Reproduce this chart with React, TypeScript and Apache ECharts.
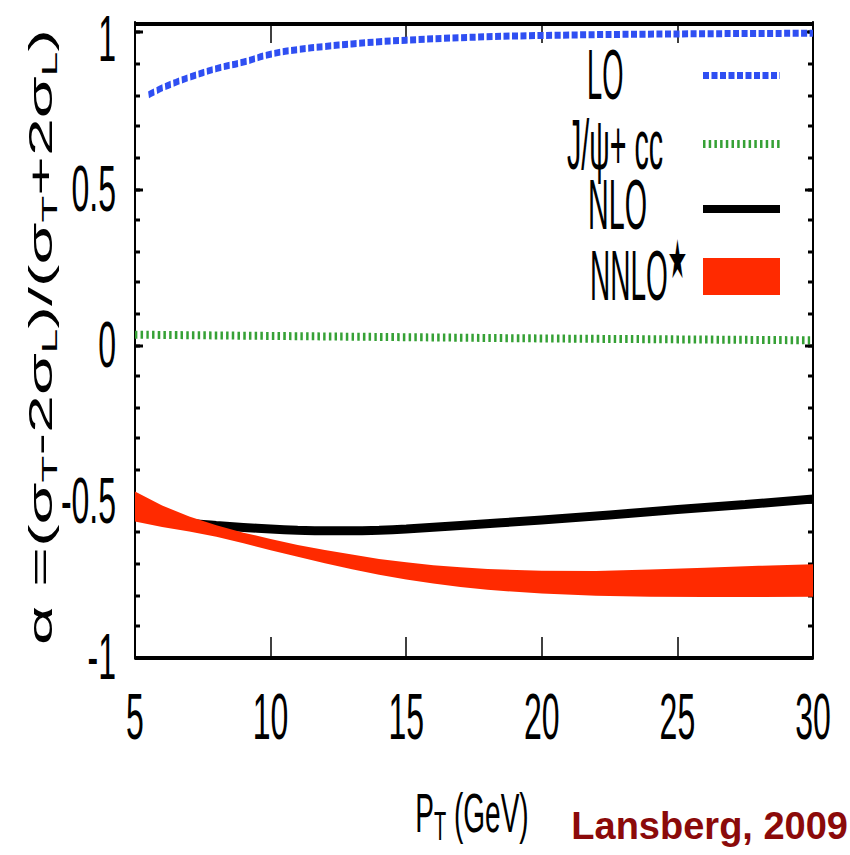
import React, { useEffect, useRef } from "react";
import * as echarts from "echarts";

// Polarisation parameter alpha versus P_T for prompt J/psi
const ptLO = [5.5, 6, 6.5, 7, 8, 9, 10, 11, 12, 13, 14, 15, 17, 20, 25, 30];
const alphaLO = [0.8, 0.822, 0.84, 0.856, 0.884, 0.905, 0.93, 0.945, 0.955, 0.963, 0.97, 0.975, 0.983, 0.99, 0.995, 0.997];

const ptCC = [5, 10, 15, 20, 25, 30];
const alphaCC = [0.032, 0.028, 0.024, 0.02, 0.017, 0.014];

const ptNLO = [6, 7, 8, 9, 10, 11, 12, 13, 14, 15, 17, 20, 22.5, 25, 27.5, 30];
const alphaNLO = [-0.56, -0.571, -0.579, -0.585, -0.59, -0.594, -0.596, -0.596, -0.594, -0.59, -0.579, -0.561, -0.545, -0.528, -0.512, -0.494];

const ptNNLO = [5, 6, 7, 8, 9, 10, 11, 12, 13, 14, 15, 16, 17, 18, 20, 22, 24, 26, 28, 30];
const nnloUpper = [-0.47, -0.515, -0.55, -0.578, -0.602, -0.622, -0.641, -0.657, -0.672, -0.686, -0.697, -0.706, -0.713, -0.718, -0.724, -0.725, -0.72, -0.714, -0.708, -0.703];
const nnloLower = [-0.566, -0.584, -0.598, -0.615, -0.636, -0.658, -0.679, -0.7, -0.719, -0.737, -0.752, -0.765, -0.776, -0.785, -0.797, -0.804, -0.807, -0.808, -0.808, -0.807];

const xTickLabels = [5, 10, 15, 20, 25, 30];
const yTickLabels = [-1, -0.5, 0, 0.5, 1];

const FONT = "'Liberation Sans', Arial, Helvetica, sans-serif";
const BLUE = "#2f4ff2";
const GREEN = "#36a136";
const RED = "#ff2a00";

const pairs = (xs: number[], ys: number[]) => xs.map((x, i) => [x, ys[i]]);

export default function App() {
  const ref = useRef<HTMLDivElement>(null);

  useEffect(() => {
    if (!ref.current) return;
    const chart = echarts.init(ref.current, null, { renderer: "svg" });

    const axisLine = { show: true, onZero: false, lineStyle: { color: "#000", width: 2 } };
    const tick = (len: number) => ({ show: true, inside: true, length: len, lineStyle: { color: "#000", width: 1.5 } });
    const yBase = { type: "value", min: -1, max: 1.03, splitLine: { show: false }, axisLine };
    const xBase = { type: "value", min: 5, max: 30, interval: 5, splitLine: { show: false }, axisLine };
    const yMax = yTickLabels[yTickLabels.length - 1];

    chart.setOption({
      animation: false,
      backgroundColor: "#fff",
      grid: { left: 135, right: 37, top: 11.5, bottom: 99.5, containLabel: false, outerBoundsMode: "none" },
      xAxis: [
        {
          ...xBase,
          position: "bottom",
          axisTick: tick(10),
          axisLabel: {
            fontSize: 32,
            fontFamily: FONT,
            color: "#000",
            margin: 14,
            formatter: (v: number) => (xTickLabels.includes(v) ? String(v) : ""),
          },
        },
        { ...xBase, position: "top", axisTick: tick(10), axisLabel: { show: false } },
      ],
      yAxis: [
        {
          ...yBase,
          position: "left",
          interval: 0.5,
          axisTick: tick(8),
          axisLabel: {
            fontSize: 32,
            lineHeight: 26,
            fontFamily: FONT,
            color: "#000",
            margin: 19,
            rich: { top: { fontSize: 32, lineHeight: 26, fontFamily: FONT, color: "#000", padding: [6, 0, 0, 0] } },
            formatter: (v: number) => {
              const t = yTickLabels.find((y) => Math.abs(y - v) < 1e-6);
              if (t === undefined) return "";
              // the topmost label sits against the frame edge; nudge it down a little
              return t === yMax ? `{top|${t}}` : String(t);
            },
          },
        },
        { ...yBase, position: "left", interval: 0.1, axisTick: tick(5), axisLabel: { show: false } },
        { ...yBase, position: "right", interval: 0.5, axisTick: tick(8), axisLabel: { show: false } },
        { ...yBase, position: "right", interval: 0.1, axisTick: tick(5), axisLabel: { show: false } },
      ],
      series: [
        {
          name: "LO",
          type: "line",
          z: 2,
          data: pairs(ptLO, alphaLO),
          smooth: true,
          symbol: "none",
          lineStyle: { color: BLUE, width: 3.5, type: [6, 2.5] },
        },
        {
          name: "J/ψ+ cc",
          type: "line",
          z: 2,
          data: pairs(ptCC, alphaCC),
          smooth: true,
          symbol: "none",
          lineStyle: { color: GREEN, width: 4, type: [2.5, 3.2] },
        },
        {
          name: "NLO",
          type: "line",
          z: 2,
          data: pairs(ptNLO, alphaNLO),
          smooth: true,
          symbol: "none",
          lineStyle: { color: "#000", width: 4.5 },
        },
        {
          name: "NNLO★",
          type: "custom",
          z: 4,
          data: ptNNLO.map((x, i) => [x, nnloUpper[i], nnloLower[i]]),
          encode: { x: 0, y: [1, 2] },
          clip: true,
          renderItem: (params: any, api: any) => {
            if (params.dataIndex !== 0) return null;
            const pts: number[][] = [];
            for (let i = 0; i < ptNNLO.length; i++) pts.push(api.coord([ptNNLO[i], nnloUpper[i]]));
            for (let i = ptNNLO.length - 1; i >= 0; i--) pts.push(api.coord([ptNNLO[i], nnloLower[i]]));
            return { type: "polygon", shape: { points: pts }, style: { fill: RED } };
          },
        },
      ],
      graphic: [
        // key
        { type: "text", x: 587, y: 37.5, scaleX: 0.78, style: { text: "LO", fontSize: 35, fontFamily: FONT, fill: "#000", align: "left", verticalAlign: "middle" } },
        { type: "line", shape: { x1: 703, y1: 37.75, x2: 780, y2: 37.75 }, style: { stroke: BLUE, lineWidth: 3.5, lineDash: [6, 2.5] } },
        { type: "text", x: 567, y: 72.5, scaleX: 0.82, style: { text: "J/ψ+ cc", fontSize: 35, fontFamily: FONT, fill: "#000", align: "left", verticalAlign: "middle" } },
        { type: "line", shape: { x1: 703, y1: 72, x2: 780, y2: 72 }, style: { stroke: GREEN, lineWidth: 4, lineDash: [2.5, 3.2] } },
        { type: "text", x: 588, y: 102.5, scaleX: 0.82, style: { text: "NLO", fontSize: 35, fontFamily: FONT, fill: "#000", align: "left", verticalAlign: "middle" } },
        { type: "line", shape: { x1: 703, y1: 104.5, x2: 780, y2: 104.5 }, style: { stroke: "#000", lineWidth: 4 } },
        {
          type: "text",
          x: 590,
          y: 138,
          scaleX: 0.8,
          style: {
            text: "NNLO{s|★}",
            fontSize: 35,
            fontFamily: FONT,
            fill: "#000",
            align: "left",
            verticalAlign: "middle",
            rich: { s: { fontSize: 27, fontFamily: "'DejaVu Sans', sans-serif", fill: "#000", padding: [0, 0, 16, 0], lineHeight: 24 } },
          },
        },
        { type: "rect", shape: { x: 703, y: 129, width: 77, height: 18.5 }, style: { fill: RED } },
        // axis titles
        {
          type: "text",
          x: 40,
          y: 168.5,
          rotation: Math.PI / 2,
          style: {
            text: "α =(σ{t|T}-2σ{t|L})/(σ{t|T}+2σ{t|L})",
            fontSize: 34,
            fontFamily: FONT,
            fill: "#000",
            align: "center",
            verticalAlign: "middle",
            rich: { t: { fontSize: 22, fontFamily: FONT, fill: "#000", padding: [18, 0, 0, 0], lineHeight: 22 } },
          },
        },
        {
          type: "text",
          x: 472,
          y: 406,
          style: {
            text: "P{t|T} (GeV)",
            fontSize: 28,
            fontFamily: FONT,
            fill: "#000",
            align: "center",
            verticalAlign: "middle",
            rich: { t: { fontSize: 20, fontFamily: FONT, fill: "#000", padding: [14, 0, 0, 0], lineHeight: 20 } },
          },
        },
        {
          type: "text",
          x: 848,
          y: 413,
          scaleY: 0.5,
          style: { text: "Lansberg, 2009", fontSize: 38, fontWeight: "bold", fontFamily: FONT, fill: "#8b0a0a", align: "right", verticalAlign: "middle" },
        },
      ],
    });

    return () => chart.dispose();
  }, []);

  return (
    <div style={{ position: "fixed", left: 0, top: 0, width: 850, height: 855, overflow: "hidden", background: "#fff" }}>
      <div ref={ref} style={{ width: 850, height: 428, transform: "scaleY(2)", transformOrigin: "0 0" }} />
    </div>
  );
}
